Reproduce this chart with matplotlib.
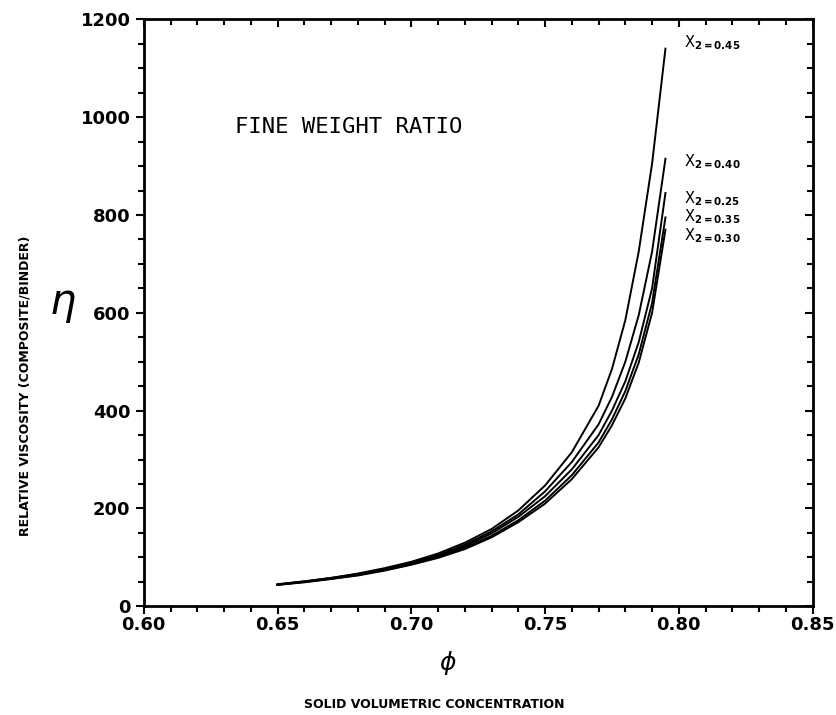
import matplotlib
matplotlib.use("Agg")
import matplotlib.pyplot as plt
from matplotlib.ticker import MultipleLocator, NullFormatter

# solid volumetric concentration
phi = [0.65, 0.66, 0.67, 0.68, 0.69, 0.70, 0.71, 0.72, 0.73, 0.74, 0.75,
       0.76, 0.77, 0.775, 0.78, 0.785, 0.79, 0.795]

# relative viscosity for each fine weight ratio
eta_045 = [45, 51, 58, 67, 78, 91, 108, 130, 158, 196, 247, 315, 410, 485, 585, 725, 905, 1140]
eta_040 = [45, 51, 58, 66, 76, 89, 105, 126, 153, 188, 235, 295, 372, 428, 500, 595, 725, 915]
eta_025 = [44, 50, 57, 65, 75, 88, 103, 123, 149, 183, 225, 280, 350, 400, 460, 540, 650, 845]
eta_035 = [44, 50, 56, 64, 74, 86, 101, 120, 144, 176, 216, 268, 335, 382, 440, 515, 620, 795]
eta_030 = [44, 49, 56, 63, 73, 85, 99, 117, 141, 172, 210, 260, 325, 370, 425, 498, 600, 770]

series = [eta_045, eta_040, eta_025, eta_035, eta_030]
labels = ["0.45", "0.40", "0.25", "0.35", "0.30"]
label_y = [1152, 908, 834, 796, 757]

fig = plt.figure(figsize=(8.36, 7.15), dpi=100)
ax = fig.add_axes([0.172, 0.152, 0.800, 0.821])

for eta in series:
    ax.plot(phi, eta, color="black", lw=1.4)

for lab, y in zip(labels, label_y):
    ax.text(0.802, y, r"X$_{\mathbf{2=" + lab + "}}$", fontsize=10.5, va="center")

ax.text(0.634, 980, "FINE WEIGHT RATIO", family="DejaVu Sans Mono", fontsize=16,
        va="center")

ax.set_xlim(0.60, 0.85)
ax.set_ylim(0, 1200)
ax.xaxis.set_major_locator(MultipleLocator(0.05))
ax.xaxis.set_minor_locator(MultipleLocator(0.01))
ax.yaxis.set_major_locator(MultipleLocator(200))
ax.yaxis.set_minor_locator(MultipleLocator(50))
ax.set_xticklabels(["%.2f" % v for v in ax.get_xticks()])
ax.tick_params(which="both", direction="out", width=1.5)
ax.tick_params(which="major", length=6, labelsize=13)
ax.tick_params(which="minor", length=4)
ax.tick_params(axis="x", pad=1)
for lab in ax.get_xticklabels() + ax.get_yticklabels():
    lab.set_fontweight("bold")
for s in ax.spines.values():
    s.set_linewidth(2)

# inward ticks on the top and right edges
top = ax.secondary_xaxis("top")
right = ax.secondary_yaxis("right")
top.xaxis.set_major_locator(MultipleLocator(0.05))
top.xaxis.set_minor_locator(MultipleLocator(0.01))
right.yaxis.set_major_locator(MultipleLocator(200))
right.yaxis.set_minor_locator(MultipleLocator(50))
for sec in (top, right):
    sec.tick_params(which="both", direction="in", width=1.5)
    sec.tick_params(which="major", length=6)
    sec.tick_params(which="minor", length=4)
top.xaxis.set_major_formatter(NullFormatter())
right.yaxis.set_major_formatter(NullFormatter())

fig.text(0.075, 0.575, r"$\eta$", fontsize=30, ha="center", va="center")
fig.text(0.03, 0.46, "RELATIVE VISCOSITY (COMPOSITE/BINDER)", rotation=90,
         fontsize=9, fontweight="bold", ha="center", va="center")
fig.text(0.536, 0.073, r"$\phi$", fontsize=18, ha="center", va="center")
fig.text(0.52, 0.014, "SOLID VOLUMETRIC CONCENTRATION", fontsize=9,
         fontweight="bold", ha="center", va="center")

fig.savefig("out.png", dpi=100)
